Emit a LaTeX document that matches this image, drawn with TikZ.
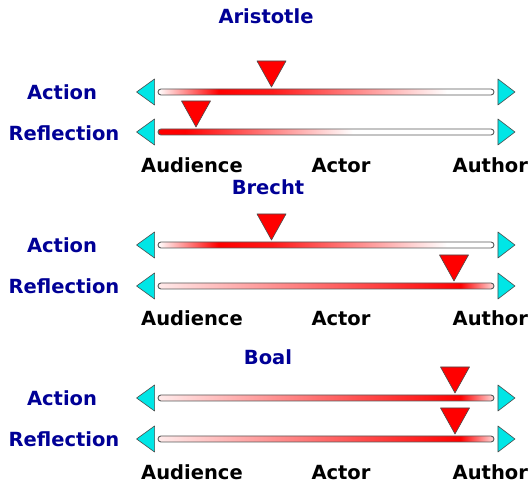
\documentclass[tikz,border=0pt]{standalone}
\usepackage{fontspec}
\setmainfont{DejaVu Sans}
\usetikzlibrary{positioning}
\definecolor{titleblue}{RGB}{0,0,150}
\definecolor{tipcyan}{RGB}{0,230,230}
% the bar is fitted into 25bp..75bp of the shading
\pgfdeclarehorizontalshading{peakleft}{100bp}{color(0bp)=(white); color(25bp)=(white); color(34bp)=(red); color(42bp)=(red!90!white); color(68bp)=(white); color(100bp)=(white)}
\pgfdeclarehorizontalshading{fromstart}{100bp}{color(0bp)=(red); color(25bp)=(red); color(29bp)=(red); color(54bp)=(white); color(100bp)=(white)}
\pgfdeclarehorizontalshading{peakright}{100bp}{color(0bp)=(red!8!white); color(25bp)=(red!8!white); color(70bp)=(red); color(75bp)=(red!15!white); color(100bp)=(red!15!white)}
\tikzset{
	title/.style={font=\fontsize{19.5}{22}\selectfont\bfseries,text=titleblue,anchor=base,inner sep=0pt},
	side/.style={font=\fontsize{19.5}{22}\selectfont\bfseries,text=titleblue,anchor=base,inner sep=0pt},
	pole/.style={font=\fontsize{19.5}{22}\selectfont\bfseries,anchor=base,inner sep=0pt,text depth=0pt},
	bar/.style={rectangle,rounded corners=3pt,draw=black!65,line width=0.9pt,minimum width=336pt,minimum height=6pt,inner sep=0pt},
	endtip/.style={fill=tipcyan,draw=black!70,line width=0.6pt,line join=round},
	marker/.style={fill=red,draw=black!70,line width=0.6pt,line join=round}
}

\begin{document}
\begin{tikzpicture}[x=1pt,y=-1pt]
		\useasboundingbox (0,0) rectangle (531,481);
		
		% Aristotle
		\node[title] (aristotle) at (266,24) {Aristotle};
		\node[side] (arAction) at (62,100) {Action};
		\node[side] (arReflection) at (64,140.5) {Reflection};
		\node[bar,shading=peakleft] (arActBar) at (326,92) {};
		\node[bar,shading=fromstart] (arRefBar) at (326,132) {};
		\node[pole] (arAudience) at (192,173) {Audience};
		\node[pole] (arActor) at (341,173) {Actor};
		\node[pole,anchor=base west] (arAuthor) at (452.5,173) {Author};
		
		% Brecht
		\node[title] (brecht) at (268,195) {Brecht};
		\node[side] (brAction) at (62,253) {Action};
		\node[side] (brReflection) at (64,294) {Reflection};
		\node[bar,shading=peakleft] (brActBar) at (326,245) {};
		\node[bar,shading=peakright] (brRefBar) at (326,286) {};
		\node[pole] (brAudience) at (192,326) {Audience};
		\node[pole] (brActor) at (341,326) {Actor};
		\node[pole,anchor=base west] (brAuthor) at (452.5,326) {Author};
		
		% Boal
		\node[title] (boal) at (268,365) {Boal};
		\node[side] (boAction) at (62,406) {Action};
		\node[side] (boReflection) at (64,447) {Reflection};
		\node[bar,shading=peakright] (boActBar) at (326,398) {};
		\node[bar,shading=peakright] (boRefBar) at (326,439) {};
		\node[pole] (boAudience) at (192,479) {Audience};
		\node[pole] (boActor) at (341,479) {Actor};
		\node[pole,anchor=base west] (boAuthor) at (452.5,479) {Author};
		
		% cyan ends of every bar
		\foreach \b in {arActBar,arRefBar,brActBar,brRefBar,boActBar,boRefBar}{
			\draw[endtip] ([xshift=-3pt]\b.west) -- ++(0,-13) -- ++(-18,13) -- ++(18,13) -- cycle;
			\draw[endtip] ([xshift=3.5pt]\b.east) -- ++(0,-13) -- ++(17,13) -- ++(-17,13) -- cycle;
		}
		
		% red markers
		\draw[marker] (271.5,87) -- ++(-14.5,-26) -- ++(29,0) -- cycle;
		\draw[marker] (196,127) -- ++(-14.5,-26) -- ++(29,0) -- cycle;
		\draw[marker] (271.5,240) -- ++(-14.5,-26) -- ++(29,0) -- cycle;
		\draw[marker] (454,281) -- ++(-14.5,-26) -- ++(29,0) -- cycle;
		\draw[marker] (455,393) -- ++(-14.5,-26) -- ++(29,0) -- cycle;
		\draw[marker] (455,434) -- ++(-14.5,-26) -- ++(29,0) -- cycle;
		\end{tikzpicture}
\end{document}
